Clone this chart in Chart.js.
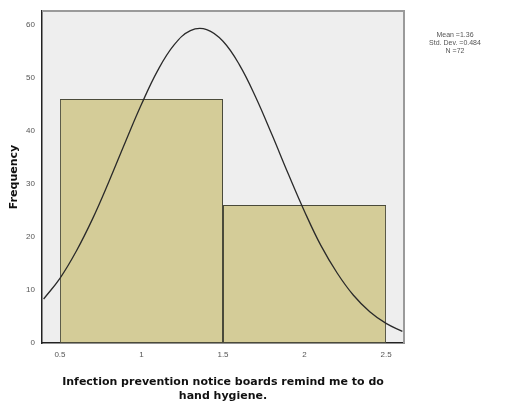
<!DOCTYPE html>
<html>
<head>
<meta charset="utf-8">
<script src="https://cdn.jsdelivr.net/npm/chart.js@4/dist/chart.umd.min.js"></script>
<style>
html,body{margin:0;padding:0;background:#fff;}
#wrap{width:505px;height:406px;position:relative;}
</style>
</head>
<body>
<div id="wrap"><canvas id="c" width="505" height="406"></canvas></div>
<script>
// Histogram bins (centre of bin) and frequencies
const binCenters = [1, 2];
const frequencies = [46, 26];
// Normal curve points
const curveX = [0.4,0.5,0.6,0.7,0.8,0.9,1.0,1.1,1.2,1.3,1.4,1.5,1.6,1.7,1.8,1.9,2.0,2.1,2.2,2.3,2.4,2.5,2.6];
const curveY = [8.3,12.2,17.3,23.4,30.4,37.8,45.0,51.4,56.2,58.9,59.1,56.9,52.5,46.4,39.3,31.9,24.8,18.4,13.2,9.0,5.9,3.7,2.2];
const xTicks = [0.5, 1, 1.5, 2, 2.5];
const yTicks = [0, 10, 20, 30, 40, 50, 60];
const statsText = ["Mean =1.36", "Std. Dev. =0.484", "N =72"];
const xTitle = ["Infection prevention notice boards remind me to do", "hand hygiene."];
const yTitle = "Frequency";

const bgPlugin = {
  id: 'bg',
  beforeDraw(chart) {
    const {ctx, chartArea: a} = chart;
    ctx.save();
    ctx.fillStyle = '#ffffff';
    ctx.fillRect(0, 0, chart.width, chart.height);
    ctx.fillStyle = '#eeeeee';
    ctx.fillRect(a.left, a.top, a.right - a.left, a.bottom - a.top);
    ctx.restore();
  },
  afterDraw(chart) {
    const {ctx, chartArea: a} = chart;
    ctx.save();
    ctx.strokeStyle = '#9a9a9a';
    ctx.lineWidth = 2;
    ctx.beginPath();
    ctx.moveTo(a.left, a.top);
    ctx.lineTo(a.right, a.top);
    ctx.lineTo(a.right, a.bottom);
    ctx.stroke();
    ctx.fillStyle = '#555';
    ctx.font = '7px "Liberation Sans", Arial, sans-serif';
    ctx.textAlign = 'center';
    ctx.textBaseline = 'middle';
    statsText.forEach((t, i) => ctx.fillText(t, 455, 35 + i * 8));
    ctx.restore();
  }
};

const FONT = '"Liberation Sans", Arial, sans-serif';
const TITLE_FONT = '"DejaVu Sans", Verdana, sans-serif';

new Chart(document.getElementById('c'), {
  data: {
    datasets: [
      {
        type: 'line',
        xAxisID: 'x',
        data: curveX.map((x, i) => ({x: x, y: curveY[i]})),
        borderColor: '#2a2a2a',
        borderWidth: 1.3,
        pointRadius: 0,
        tension: 0.4,
        fill: false,
        order: 0
      },
      {
        type: 'bar',
        xAxisID: 'x',
        grouped: false,
        data: binCenters.map((x, i) => ({x: x, y: frequencies[i]})),
        backgroundColor: '#d4cc98',
        borderColor: '#4a4a3a',
        borderWidth: 1,
        borderSkipped: false,
        barPercentage: 1,
        // ruler minimum is the 0.5 tick spacing; doubling spans the full unit-wide bin
        categoryPercentage: 2,
        order: 1
      }
    ]
  },
  options: {
    responsive: false,
    animation: false,
    layout: {padding: {top: 11, right: 101, left: 0, bottom: 0}},
    plugins: {legend: {display: false}, tooltip: {enabled: false}},
    scales: {
      x: {
        type: 'linear',
        position: 'bottom',
        offset: false,
        min: 0.39,
        max: 2.61,
        afterBuildTicks(s) { s.ticks = xTicks.map(v => ({value: v})); },
        afterFit(s) { s.height = 63; },
        grid: {display: false, drawOnChartArea: false, drawTicks: true, tickLength: 5, tickColor: '#222', offset: false},
        border: {display: true, color: '#222', width: 1.5},
        ticks: {color: '#555', font: {family: FONT, size: 8}, padding: 2, maxRotation: 0,
          callback: v => String(v)},
        title: {display: true, text: xTitle, color: '#111',
          font: {family: TITLE_FONT, size: 11, weight: 'bold', lineHeight: 1.25}, padding: {top: 3, bottom: 3}}
      },
      y: {
        type: 'linear',
        min: 0,
        max: 62.6,
        afterBuildTicks(s) { s.ticks = yTicks.map(v => ({value: v})); },
        afterFit(s) { s.width = 42; },
        grid: {display: false, drawOnChartArea: false, drawTicks: true, tickLength: 5, tickColor: '#222'},
        border: {display: true, color: '#222', width: 1.5},
        ticks: {color: '#555', font: {family: FONT, size: 8}, padding: 2},
        title: {display: true, text: yTitle, color: '#111',
          font: {family: TITLE_FONT, size: 11, weight: 'bold'}, padding: {top: 8, bottom: 0}}
      }
    }
  },
  plugins: [bgPlugin]
});
</script>
</body>
</html>
